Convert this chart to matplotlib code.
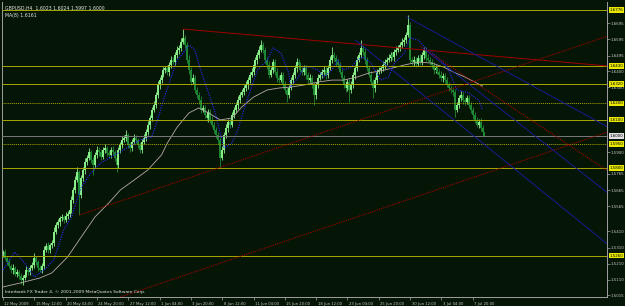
import matplotlib
matplotlib.use("Agg")
import matplotlib.pyplot as plt
import numpy as np
from matplotlib.transforms import blended_transform_factory, ScaledTranslation

# ---------------- data ----------------
first_open = 1.5270
close = [
    1.5283, 1.5246, 1.5222, 1.5197, 1.5172, 1.5185, 1.5147, 1.5160, 1.5135, 1.5110,
    1.5123, 1.5141, 1.5172, 1.5160, 1.5185, 1.5203, 1.5246, 1.5222, 1.5185, 1.5172,
    1.5197, 1.5296, 1.5320, 1.5296, 1.5326, 1.5339, 1.5407, 1.5450, 1.5468, 1.5493,
    1.5499, 1.5481, 1.5505, 1.5518, 1.5542, 1.5604, 1.5666, 1.5727, 1.5777, 1.5635,
    1.5740, 1.5789, 1.5838, 1.5863, 1.5900, 1.5851, 1.5820, 1.5882, 1.5913, 1.5900,
    1.5869, 1.5913, 1.5925, 1.5894, 1.5882, 1.5913, 1.5900, 1.5863, 1.5820, 1.5913,
    1.5943, 1.5974, 1.5987, 1.6005, 1.5943, 1.5925, 1.5962, 1.5987, 1.5974, 1.5943,
    1.5913, 1.5962, 1.5987, 1.6024, 1.6067, 1.6110, 1.6159, 1.6190, 1.6252, 1.6314,
    1.6344, 1.6375, 1.6406, 1.6418, 1.6394, 1.6437, 1.6468, 1.6455, 1.6499, 1.6530,
    1.6542, 1.6579, 1.6604, 1.6560, 1.6468, 1.6406, 1.6332, 1.6357, 1.6283, 1.6252,
    1.6221, 1.6159, 1.6172, 1.6128, 1.6110, 1.6147, 1.6098, 1.6067, 1.6036, 1.6005,
    1.5974, 1.5863, 1.5913, 1.6005, 1.6048, 1.6085, 1.6067, 1.6128, 1.6159, 1.6190,
    1.6221, 1.6252, 1.6270, 1.6295, 1.6314, 1.6344, 1.6375, 1.6394, 1.6437, 1.6468,
    1.6499, 1.6530, 1.6560, 1.6530, 1.6468, 1.6437, 1.6375, 1.6406, 1.6455, 1.6394,
    1.6357, 1.6344, 1.6375, 1.6314, 1.6283, 1.6252, 1.6295, 1.6344, 1.6375, 1.6418,
    1.6455, 1.6437, 1.6406, 1.6394, 1.6418, 1.6375, 1.6344, 1.6357, 1.6314, 1.6252,
    1.6314, 1.6357, 1.6375, 1.6394, 1.6406, 1.6375, 1.6418, 1.6468, 1.6499, 1.6480,
    1.6455, 1.6437, 1.6394, 1.6357, 1.6314, 1.6295, 1.6332, 1.6283, 1.6314, 1.6375,
    1.6418, 1.6468, 1.6499, 1.6542, 1.6517, 1.6468, 1.6418, 1.6375, 1.6332, 1.6295,
    1.6344, 1.6394, 1.6406, 1.6418, 1.6437, 1.6455, 1.6468, 1.6480, 1.6499, 1.6486,
    1.6517, 1.6530, 1.6542, 1.6560, 1.6579, 1.6591, 1.6622, 1.6684, 1.6468, 1.6455,
    1.6468, 1.6443, 1.6480, 1.6455, 1.6499, 1.6530, 1.6480, 1.6468, 1.6455, 1.6437,
    1.6406, 1.6418, 1.6394, 1.6375, 1.6357, 1.6369, 1.6344, 1.6314, 1.6295, 1.6283,
    1.6270, 1.6159, 1.6190, 1.6233, 1.6252, 1.6221, 1.6209, 1.6233, 1.6190, 1.6159,
    1.6128, 1.6098, 1.6067, 1.6085, 1.6048, 1.6023, 1.6000,
]
# upper / lower shadows in pips beyond the body
wick_up = [
    15, 20, 12, 18, 10, 22, 14, 16, 12, 20,
    18, 14, 25, 12, 16, 20, 30, 14, 12, 18,
    20, 25, 18, 22, 15, 20, 28, 16, 20, 14,
    18, 12, 22, 16, 20, 25, 18, 22, 30, 15,
    20, 18, 25, 16, 22, 14, 20, 18, 24, 15,
    16, 20, 22, 14, 18, 20, 25, 12, 16, 20,
    18, 24, 20, 30, 15, 18, 20, 22, 16, 14,
    20, 18, 22, 16, 24, 20, 18, 25, 20, 22,
    18, 25, 20, 16, 22, 18, 24, 20, 16, 22,
    20, 25, 55, 18, 22, 30, 20, 25, 16, 20,
    18, 22, 20, 16, 24, 18, 20, 22, 16, 18,
    20, 16, 22, 18, 24, 20, 16, 22, 18, 20,
    22, 18, 20, 16, 24, 20, 18, 22, 25, 20,
    18, 22, 31, 16, 20, 18, 22, 16, 20, 18,
    22, 16, 20, 18, 24, 20, 16, 22, 18, 20,
    25, 18, 20, 16, 22, 18, 20, 24, 16, 20,
    18, 22, 20, 16, 24, 20, 18, 22, 49, 20,
    18, 22, 16, 20, 18, 24, 20, 16, 22, 18,
    20, 25, 18, 49, 16, 22, 18, 20, 24, 16,
    22, 18, 20, 16, 24, 20, 18, 22, 16, 20,
    18, 22, 20, 16, 24, 20, 18, 61, 20, 16,
    22, 18, 20, 24, 16, 20, 18, 22, 16, 20,
    18, 22, 20, 16, 24, 20, 18, 22, 16, 20,
    18, 22, 20, 16, 24, 20, 18, 22, 16, 20,
    18, 22, 20, 16, 24, 20, 1,
]
wick_dn = [
    18, 14, 20, 12, 16, 22, 14, 18, 20, 25,
    30, 16, 14, 20, 18, 12, 16, 22, 18, 14,
    16, 20, 14, 18, 22, 16, 20, 14, 18, 22,
    16, 20, 14, 18, 22, 16, 20, 18, 14, 124,
    20, 16, 22, 18, 14, 20, 62, 18, 16, 22,
    18, 14, 20, 16, 22, 18, 14, 20, 43, 16,
    22, 18, 14, 20, 16, 22, 18, 14, 20, 16,
    22, 18, 14, 20, 16, 22, 18, 14, 20, 16,
    22, 18, 14, 20, 16, 22, 18, 14, 20, 16,
    22, 18, 14, 20, 16, 22, 18, 14, 20, 16,
    22, 18, 14, 20, 16, 22, 18, 14, 20, 16,
    22, 55, 14, 20, 16, 22, 18, 14, 20, 16,
    22, 18, 14, 20, 16, 22, 18, 14, 20, 16,
    22, 18, 14, 20, 16, 22, 18, 14, 20, 16,
    22, 18, 14, 20, 16, 43, 18, 14, 20, 16,
    22, 18, 14, 20, 16, 22, 18, 14, 20, 62,
    22, 18, 14, 20, 16, 22, 18, 14, 20, 16,
    22, 18, 14, 20, 16, 22, 18, 74, 20, 16,
    22, 18, 14, 20, 16, 22, 18, 14, 20, 62,
    22, 18, 14, 20, 16, 22, 18, 14, 20, 16,
    22, 18, 14, 20, 16, 22, 18, 14, 20, 16,
    22, 18, 14, 20, 16, 22, 18, 14, 20, 16,
    22, 18, 14, 20, 16, 22, 18, 14, 20, 16,
    22, 43, 14, 20, 16, 22, 18, 14, 20, 16,
    22, 18, 14, 20, 16, 22, 3,
]

# fast moving average (blue dotted) read at sample bars
ma_fast_idx = [0, 6, 11, 16, 21, 26, 31, 35, 40, 45, 50, 55, 59, 64, 70, 76, 79, 82, 86, 89,
               92, 95, 98, 101, 105, 108, 111, 113, 117, 120, 123, 127, 130, 135, 138, 142, 146, 147,
               151, 154, 157, 161, 164, 168, 171, 174, 178, 181, 184, 188, 193, 197, 200, 205, 208,
               212, 217, 222, 227, 232, 238, 243, 245]
ma_fast_val = [1.5172, 1.5283, 1.5215, 1.5129, 1.5172, 1.5234, 1.5419, 1.5499, 1.5684, 1.5771,
               1.5832, 1.5869, 1.5894, 1.5931, 1.5974, 1.5993, 1.6098, 1.6221, 1.6363, 1.6468,
               1.6511, 1.6560, 1.6530, 1.6406, 1.6264, 1.6159, 1.6017, 1.5925, 1.5956, 1.6036,
               1.6159, 1.6301, 1.6406, 1.6468, 1.6542, 1.6511, 1.6388, 1.6301, 1.6363, 1.6425,
               1.6425, 1.6406, 1.6363, 1.6406, 1.6468, 1.6406, 1.6425, 1.6468, 1.6486, 1.6449,
               1.6344, 1.6363, 1.6449, 1.6511, 1.6604, 1.6591, 1.6530, 1.6486, 1.6425, 1.6283,
               1.6264, 1.6221, 1.6159]
# slow moving average (grey) read at sample bars
ma_slow_idx = [0, 9, 19, 25, 33, 40, 47, 54, 60, 67, 74, 81, 84, 89, 95, 100, 105, 111, 117,
               122, 128, 135, 141, 147, 154, 161, 168, 174, 181, 187, 195, 205, 212, 219, 225,
               230, 236, 241, 245]
ma_slow_val = [1.5067, 1.5092, 1.5123, 1.5154, 1.5252, 1.5376, 1.5499, 1.5585, 1.5666, 1.5727,
               1.5789, 1.5882, 1.5956, 1.6054, 1.6141, 1.6172, 1.6141, 1.6098, 1.6110, 1.6178,
               1.6239, 1.6283, 1.6295, 1.6301, 1.6314, 1.6332, 1.6344, 1.6344, 1.6363, 1.6388,
               1.6406, 1.6437, 1.6455, 1.6449, 1.6425, 1.6394, 1.6363, 1.6332, 1.6307]

# horizontal levels
level_prices = [1.6776, 1.6430, 1.6320, 1.6200, 1.6100, 1.5950, 1.5800, 1.5260]
level_dotted = [False, False, False, True, False, True, False, False]
bid_price = 1.6000

# trend lines: (bar0, price0, bar1, price1)
red_solid = [(92, 1.6659, 309, 1.6431)]
red_dotted = [(39, 1.5511, 309, 1.6616), (58.8, 1.5000, 309, 1.6024), (213, 1.6554, 309, 1.5783)]
blue_lines = [(206.4, 1.6733, 309, 1.6054), (180, 1.6591, 309, 1.5330), (214.5, 1.6542, 309, 1.5647)]

# axis labels
time_labels = ["12 May 2009", "15 May 12:00", "20 May 04:00", "24 May 20:00", "27 May 12:00",
               "1 Jun 04:00", "3 Jun 20:00", "8 Jun 12:00", "11 Jun 04:00", "15 Jun 20:00",
               "18 Jun 12:00", "23 Jun 04:00", "25 Jun 20:00", "30 Jun 12:00", "3 Jul 04:00",
               "7 Jul 20:00"]
time_label_bars = [0, 16, 32, 48, 64, 80, 96, 112, 128, 144, 160, 176, 192, 208, 224, 240]
price_ticks = [1.6695, 1.6595, 1.6495, 1.6400, 1.6300, 1.5900, 1.5765, 1.5665, 1.5565,
               1.5410, 1.5310, 1.5210, 1.5110, 1.5015]
header = "GBPUSD,H4  1.6023 1.6024 1.5997 1.6000"
header2 = "MA(8) 1.6161"

# ---------------- plot ----------------
BG = "#061606"
fig = plt.figure(figsize=(6.25, 3.06), dpi=100, facecolor=BG)
W, H = 625, 306
ax = fig.add_axes([2 / W, 9 / H, 605 / W, 295 / H])
ax.set_facecolor(BG)

n = len(close)
idx = np.arange(n)
c = np.array(close)
o = np.concatenate([[first_open], c[:-1]])
hi = np.maximum(o, c) + np.array(wick_up) / 10000.0
lo = np.minimum(o, c) - np.array(wick_dn) / 10000.0
up = c >= o
col_up, col_dn = "#8af08a", "#1f8a34"
colors = np.where(up, col_up, col_dn)
ax.vlines(idx, lo, hi, colors=colors, linewidth=0.6, zorder=2)
ax.vlines(idx, np.minimum(o, c), np.maximum(o, c), colors=colors, linewidth=1.4, zorder=2)

ax.plot(ma_slow_idx, ma_slow_val, color="#b8aaaa", lw=0.6, zorder=3)
ax.plot(ma_fast_idx, ma_fast_val, color="#2a2aff", lw=0.8, ls=(0, (1, 1.2)), zorder=3)

for p, d in zip(level_prices, level_dotted):
    ax.axhline(p, color="#a8a800", lw=0.7, ls=(0, (1, 1)) if d else "-", zorder=4)
ax.axhline(bid_price, color="#7a7a7a", lw=0.7, zorder=4)

for (a0, p0, a1, p1) in red_solid:
    ax.plot([a0, a1], [p0, p1], color="#a00000", lw=0.7, zorder=4)
for (a0, p0, a1, p1) in red_dotted:
    ax.plot([a0, a1], [p0, p1], color="#b00000", lw=0.7, ls=(0, (1.2, 1.2)), zorder=4)
for (a0, p0, a1, p1) in blue_lines:
    ax.plot([a0, a1], [p0, p1], color="#1a1aa8", lw=0.6, zorder=4)

ax.set_xlim(-0.5, 308.6)
ax.set_ylim(1.5005, 1.6826)

for s in ["left", "right", "bottom"]:
    ax.spines[s].set_color("#a0a0a0")
    ax.spines[s].set_linewidth(0.7)
ax.spines["top"].set_visible(False)

FSX = 2.7
FS = 2.9
TC = "#c8c8c8"
ax.set_xticks(time_label_bars)
ax.set_xticklabels(time_labels, fontsize=FSX, color=TC, ha="left")
ax.tick_params(axis="x", length=2.5, width=0.5, color="#a0a0a0", pad=0.8)
off = ScaledTranslation(1.5 / 100, 0, fig.dpi_scale_trans)
for lab in ax.get_xticklabels():
    lab.set_transform(lab.get_transform() + off)

ax.yaxis.tick_right()
ax.set_yticks(price_ticks)
ax.set_yticklabels([f"{v:.4f}" for v in price_ticks], fontsize=FS, color=TC)
ax.tick_params(axis="y", length=2, width=0.5, color="#a0a0a0", pad=0.8)

trans = blended_transform_factory(ax.transAxes, ax.transData)
lab_off = ScaledTranslation(2.8 / 100, 0, fig.dpi_scale_trans)
for p in level_prices:
    ax.text(1.0, p, f"{p:.4f}", transform=trans + lab_off,
            fontsize=FS, color="black", va="center", ha="left",
            bbox=dict(boxstyle="square,pad=0.2", fc="#e8e800", ec="none"), clip_on=False, zorder=6)
ax.text(1.0, bid_price, f"{bid_price:.4f}", transform=trans + lab_off,
        fontsize=FS, color="black", va="center", ha="left",
        bbox=dict(boxstyle="square,pad=0.2", fc="#e0e0e0", ec="none"), clip_on=False, zorder=6)

ax.text(3 / 605, 1 - 4 / 295, header, transform=ax.transAxes, fontsize=3.3, color="#e8e8e8",
        va="top", ha="left", zorder=7)
ax.text(3 / 605, 1 - 11 / 295, header2, transform=ax.transAxes, fontsize=3.3, color="#e8e8e8",
        va="top", ha="left", zorder=7)
ax.text(3 / 605, 3 / 295, "Interbank FX Trader 4, \u00a9 2001-2009 MetaQuotes Software Corp.",
        transform=ax.transAxes, fontsize=3.2, color="#e8e8e8", va="bottom", ha="left", zorder=7)

fig.savefig("out.png", dpi=100, facecolor=BG)
